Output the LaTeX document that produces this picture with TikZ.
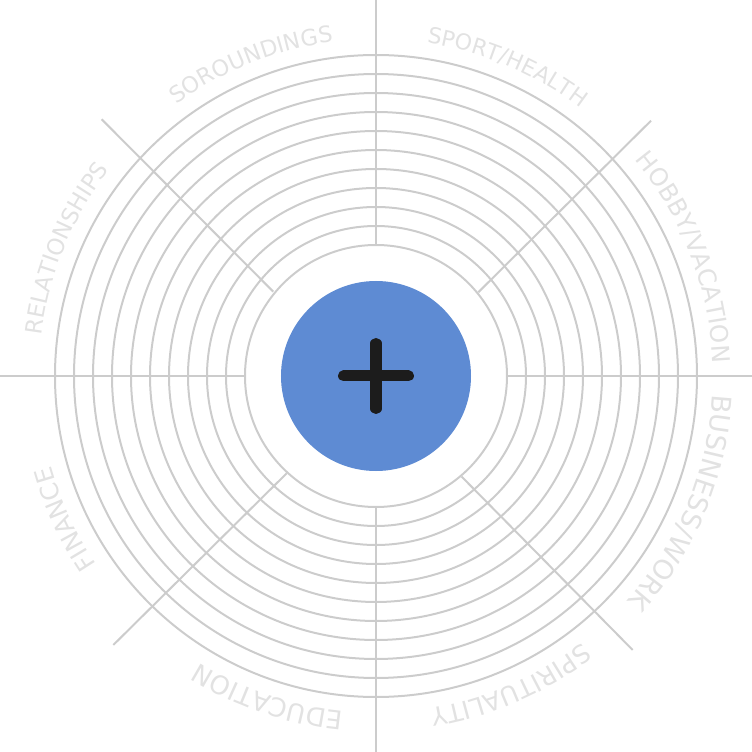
\documentclass[tikz,border=0pt]{standalone}
\usepackage{fontspec}
\newfontfamily\lblfont{DejaVu Sans}
\usetikzlibrary{decorations.text}
\definecolor{ringc}{HTML}{CCCCCC}
\definecolor{lblc}{HTML}{E2E2E2}
\definecolor{hubc}{HTML}{5E8BD3}
\definecolor{plusc}{HTML}{1C1C1C}
\tikzset{
  ring/.style={draw=ringc, line width=2pt},
  spoke/.style={draw=ringc, line width=2pt},
  lbl/.style 2 args={decorate, decoration={text along path, text align=center,
     text={|\lblfont\fontsize{#1}{#1}\selectfont\color{lblc}|#2}}}
}
\newcommand\arclabel[3]{%
  \path[lbl={#2}{#3}] ({#1+32}:337) arc[start angle={#1+32}, end angle={#1-32}, radius=337pt];}
\begin{document}
\begin{tikzpicture}[x=1pt,y=1pt]
\useasboundingbox (-376,-376) rectangle (376,376);
% rings
\foreach \k in {0,...,10}{
  \draw[ring] (0,0) circle[radius={131pt+19pt*\k}];
}
% axis spokes
\draw[spoke] (-376,0) -- (-131,0);
\draw[spoke] (131,0) -- (376,0);
\draw[spoke] (0,376) -- (0,131);
\draw[spoke] (0,-131) -- (0,-376);
% diagonal spokes
\draw[spoke] (-274.3,256.7) -- (-102.7,84.3);
\draw[spoke] (275,255.3) -- (102.3,83.7);
\draw[spoke] (85.7,-100.7) -- (256.7,-274);
\draw[spoke] (-89.3,-97.3) -- (-262.7,-269);
% hub
\fill[hubc] (0,0) circle[radius=95pt];
\draw[plusc, line width=11pt, line cap=round] (-32.5,0) -- (32.5,0);
\draw[plusc, line width=11pt, line cap=round] (0,-32.5) -- (0,32.5);
% labels (clockwise arcs)
\arclabel{111.8}{22.5}{SOROUNDINGS}
\arclabel{67}{22}{SPORT/HEALTH}
\arclabel{21}{24.5}{HOBBY/VACATION}
\arclabel{-22.5}{27}{BUSINESS/WORK}
\arclabel{-66.5}{25.3}{SPIRITUALITY}
\arclabel{-108.6}{25.8}{EDUCATION}
\arclabel{-155.3}{24.8}{FINANCE}
\arclabel{157.7}{22.9}{RELATIONSHIPS}
\end{tikzpicture}
\end{document}
